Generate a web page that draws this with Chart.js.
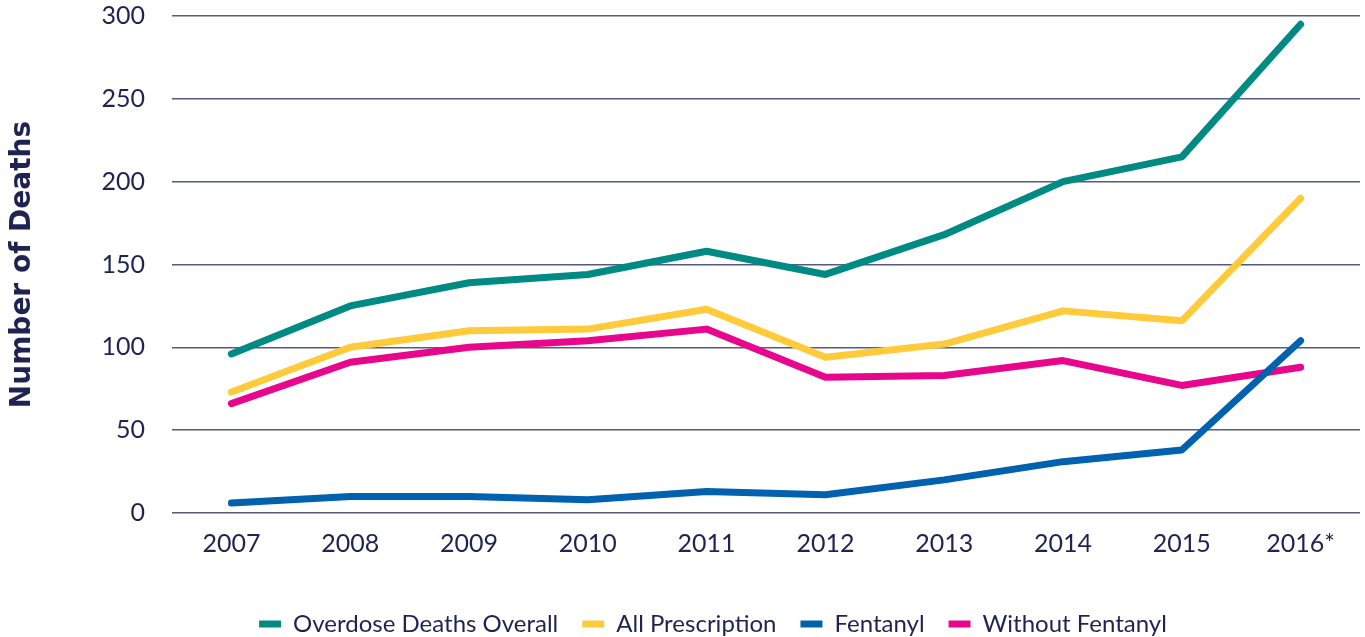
<!DOCTYPE html>
<html>
<head>
<meta charset="utf-8">
<script src="https://cdn.jsdelivr.net/npm/chart.js@4"></script>
<style>
  html, body { margin: 0; padding: 0; background: #fff; }
  #wrap { width: 1365px; height: 637px; }
</style>
</head>
<body>
<div id="wrap"><canvas id="deaths"></canvas></div>
<script>
const years = ["2007", "2008", "2009", "2010", "2011", "2012", "2013", "2014", "2015", "2016*"];
const overdoseOverall = [96, 125, 139, 144, 158, 144, 168, 200, 215, 295];
const allPrescription = [73, 100, 110, 111, 123, 94, 102, 122, 116, 190];
const fentanyl = [6, 10, 10, 8, 13, 11, 20, 31, 38, 104];
const withoutFentanyl = [66, 91, 100, 104, 111, 82, 83, 92, 77, 88];
const yTicks = [0, 50, 100, 150, 200, 250, 300];

const navy = "#1e2352";

function line(label, data, color) {
  return {
    label: label,
    data: data,
    borderColor: color,
    backgroundColor: color,
    borderWidth: 7,
    pointRadius: 0,
    tension: 0,
    borderCapStyle: "round",
    borderJoinStyle: "round",
  };
}

// legend sits a little right of centre in the original
const shiftLegend = {
  id: "shiftLegend",
  afterLayout(chart) {
    chart.legend.left += 33;
    chart.legend.right += 33;
  },
};

const ctx = document.getElementById("deaths").getContext("2d");
new Chart(ctx, {
  type: "line",
  data: {
    labels: years,
    datasets: [
      line("Overdose Deaths Overall", overdoseOverall, "#008a84"),
      line("All Prescription", allPrescription, "#ffcb3b"),
      line("Fentanyl", fentanyl, "#0061af"),
      line("Without Fentanyl", withoutFentanyl, "#e8078c"),
    ],
  },
  plugins: [shiftLegend],
  options: {
    responsive: true,
    maintainAspectRatio: false,
    animation: false,
    layout: { padding: { top: 16, right: 5, left: 0, bottom: -9 } },
    scales: {
      x: {
        offset: true,
        afterFit: (s) => { s.height = 75; },
        grid: { display: false, drawTicks: false },
        border: { display: false },
        ticks: { color: navy, padding: 16, font: { family: "Lato", size: 25 } },
      },
      y: {
        min: 0,
        max: 300,
        afterFit: (s) => {
          s.width = 172;
          s.paddingTop = 0;
          s.paddingBottom = 0;
        },
        afterBuildTicks: (s) => { s.ticks = yTicks.map((v) => ({ value: v })); },
        grid: { color: "#555a7e", lineWidth: 1.5, drawTicks: false },
        border: { display: false },
        ticks: { color: navy, padding: 27, font: { family: "Lato", size: 25 } },
        title: {
          display: true,
          text: "Number of Deaths",
          color: navy,
          padding: { top: 6, bottom: 0 },
          font: { family: "DejaVu Sans", size: 28, weight: "bold" },
        },
      },
    },
    plugins: {
      legend: {
        position: "bottom",
        labels: {
          color: navy,
          usePointStyle: true,
          pointStyle: "line",
          pointStyleWidth: 22,
          boxHeight: 8,
          padding: 24,
          font: { family: "Lato", size: 24 },
        },
      },
      tooltip: { enabled: false },
    },
  },
});
</script>
</body>
</html>
